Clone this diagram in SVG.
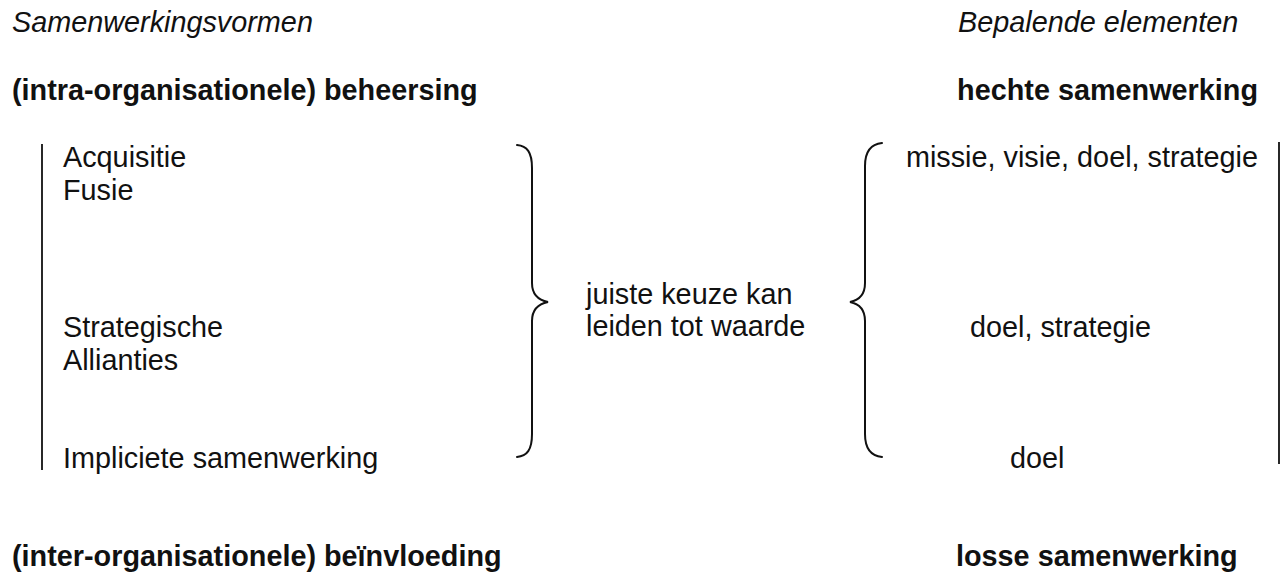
<svg xmlns="http://www.w3.org/2000/svg" width="1282" height="577" viewBox="0 0 1282 577">
  <style>
    text { font-family: "Liberation Sans", Arial, sans-serif; font-size: 28.8px; fill: #111; }
    .it { font-style: italic; }
    .b { font-weight: bold; }
    .end { text-anchor: end; }
    .line { stroke: #111; stroke-width: 1.8; fill: none; }
    .brace { stroke: #111; stroke-width: 2; fill: none; stroke-linecap: round; }
  </style>
  <rect width="1282" height="577" fill="#fff"/>

  <!-- column headings -->
  <g id="heading-left">
    <text class="it" x="12" y="32">Samenwerkingsvormen</text>
  </g>
  <g id="heading-right">
    <text class="it" x="958" y="32">Bepalende elementen</text>
  </g>

  <!-- scale ends -->
  <g id="top-left">
    <text class="b" x="12" y="100">(intra-organisationele) beheersing</text>
  </g>
  <g id="top-right">
    <text class="b end" x="1258" y="100">hechte samenwerking</text>
  </g>
  <g id="bottom-left">
    <text class="b" x="12" y="566">(inter-organisationele) beïnvloeding</text>
  </g>
  <g id="bottom-right">
    <text class="b" x="956" y="566">losse samenwerking</text>
  </g>

  <!-- forms of cooperation -->
  <g id="forms">
    <text x="63" y="167">Acquisitie</text>
    <text x="63" y="200">Fusie</text>
    <text x="63" y="337">Strategische</text>
    <text x="63" y="370">Allianties</text>
    <text x="63" y="468">Impliciete samenwerking</text>
  </g>

  <!-- central statement -->
  <g id="centre">
    <text x="586" y="304">juiste keuze kan</text>
    <text x="586" y="336">leiden tot waarde</text>
  </g>

  <!-- determining elements -->
  <g id="elements">
    <text class="end" x="1258" y="167">missie, visie, doel, strategie</text>
    <text x="970" y="337">doel, strategie</text>
    <text x="1010" y="468">doel</text>
  </g>

  <!-- scale bars and braces -->
  <g id="connectors">
    <line class="line" x1="42" y1="144" x2="42" y2="470"/>
    <line class="line" x1="1279" y1="142" x2="1279" y2="464"/>
    <path class="brace" d="M517,145 C527,146 532,152 532,168 L532,283 C532,294 538,300 548,302 C538,304 532,310 532,321 L532,434 C532,450 527,456 517,457"/>
    <path class="brace" d="M882,143 C872,144 865,150 865,166 L865,283 C865,294 860,300 850,302 C860,304 865,310 865,321 L865,434 C865,450 872,456 882,457"/>
  </g>
</svg>
